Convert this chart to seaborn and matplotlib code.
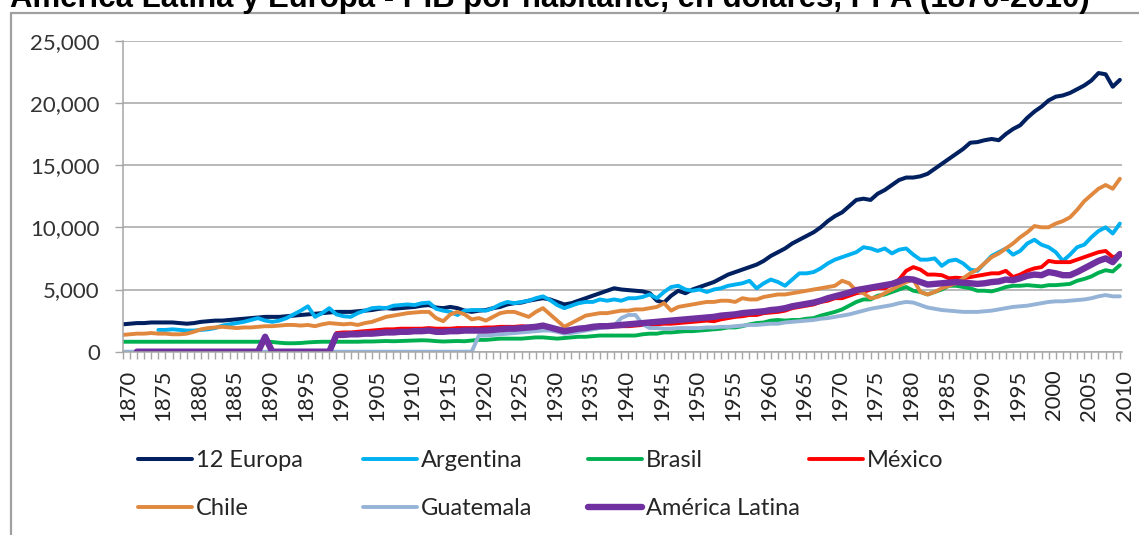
import numpy as np
import pandas as pd
import matplotlib
matplotlib.use("Agg")
import matplotlib.pyplot as plt
import matplotlib.ticker as mticker
import matplotlib.transforms as mtransforms
from matplotlib.lines import Line2D
import seaborn as sns

# PIB por habitante (dolares PPA), 1870-2010
years = list(range(1870, 2011))
nan = np.nan

europa = [2200, 2250, 2300, 2300, 2350, 2350, 2350, 2350, 2300, 2250,
          2300, 2400, 2450, 2500, 2500, 2550, 2600, 2650, 2700, 2750,
          2800, 2800, 2800, 2850, 2900, 2950, 3000, 3050, 3100, 3150,
          3200, 3200, 3200, 3250, 3300, 3350, 3450, 3500, 3450, 3500,
          3550, 3600, 3700, 3750, 3550, 3500, 3600, 3500, 3300, 3200,
          3300, 3350, 3500, 3600, 3800, 3900, 3950, 4100, 4200, 4300,
          4200, 4000, 3800, 3900, 4100, 4300, 4500, 4700, 4900, 5100,
          5000, 4950, 4900, 4850, 4700, 4100, 3950, 4500, 4900, 4700,
          5000, 5200, 5400, 5600, 5900, 6200, 6400, 6600, 6800, 7000,
          7300, 7700, 8000, 8300, 8700, 9000, 9300, 9600, 10000, 10500,
          10900, 11200, 11700, 12200, 12300, 12200, 12700, 13000, 13400, 13800,
          14000, 14000, 14100, 14300, 14700, 15100, 15500, 15900, 16300, 16800,
          16850, 17000, 17100, 17000, 17500, 17900, 18200, 18800, 19300, 19700,
          20200, 20500, 20600, 20800, 21100, 21400, 21800, 22400, 22300, 21300,
          21850]

argentina = [nan, nan, nan, nan, nan, 1750, 1750, 1800, 1750, 1700,
             1700, 1750, 1800, 1900, 2100, 2200, 2300, 2400, 2550, 2700,
             2500, 2400, 2500, 2700, 3000, 3300, 3650, 2800, 3100, 3500,
             3000, 2850, 2800, 3100, 3300, 3500, 3550, 3500, 3700, 3750,
             3800, 3750, 3900, 3950, 3450, 3300, 3200, 2950, 3300, 3350,
             3350, 3300, 3500, 3800, 4000, 3900, 4000, 4100, 4300, 4450,
             4150, 3750, 3500, 3700, 3900, 4000, 4000, 4200, 4100, 4200,
             4100, 4300, 4300, 4400, 4600, 4300, 4800, 5200, 5300, 5000,
             4900, 5000, 4800, 5000, 5100, 5300, 5400, 5500, 5700, 5100,
             5500, 5800, 5600, 5300, 5800, 6300, 6300, 6400, 6700, 7100,
             7400, 7600, 7800, 8000, 8400, 8300, 8100, 8300, 7900, 8200,
             8300, 7800, 7400, 7400, 7500, 6900, 7300, 7400, 7100, 6600,
             6500, 7100, 7700, 8000, 8300, 7800, 8100, 8700, 9000, 8600,
             8400, 8000, 7300, 7800, 8400, 8600, 9200, 9700, 10000, 9500,
             10300]

brasil = [800, 800, 800, 800, 800, 800, 800, 800, 800, 800,
          800, 800, 800, 800, 800, 800, 800, 800, 800, 800,
          800, 780, 720, 680, 680, 700, 750, 780, 800, 800,
          800, 800, 800, 800, 820, 820, 840, 860, 840, 860,
          880, 900, 920, 900, 850, 820, 840, 860, 840, 900,
          950, 950, 1000, 1050, 1050, 1050, 1050, 1100, 1150, 1150,
          1100, 1050, 1100, 1150, 1200, 1200, 1250, 1300, 1300, 1300,
          1300, 1300, 1300, 1400, 1450, 1450, 1550, 1550, 1600, 1650,
          1650, 1700, 1750, 1800, 1850, 1950, 1950, 2050, 2200, 2300,
          2350, 2500, 2550, 2500, 2550, 2550, 2650, 2700, 2900, 3050,
          3200, 3400, 3700, 4000, 4200, 4200, 4500, 4600, 4800, 5000,
          5200, 4900, 4800, 4600, 4800, 5000, 5300, 5300, 5200, 5100,
          4900, 4900, 4850, 5000, 5200, 5300, 5300, 5350, 5300, 5250,
          5350, 5350, 5400, 5450, 5700, 5850, 6050, 6350, 6550, 6450,
          6950]

mexico = [nan] * 30 + [
          1500, 1550, 1550, 1600, 1650, 1700, 1750, 1800, 1800, 1850,
          1850, 1850, 1850, 1900, 1850, 1850, 1850, 1900, 1900, 1900,
          1900, 1950, 1950, 2000, 2000, 2000, 2050, 2000, 2000, 2050,
          1900, 1800, 1650, 1750, 1800, 1900, 1950, 2000, 2000, 2050,
          2050, 2050, 2100, 2150, 2150, 2200, 2250, 2250, 2300, 2350,
          2400, 2450, 2500, 2450, 2600, 2700, 2800, 2850, 2950, 2950,
          3100, 3150, 3200, 3300, 3500, 3600, 3700, 3800, 4000, 4100,
          4300, 4300, 4500, 4700, 4800, 5000, 5100, 5100, 5400, 5800,
          6500, 6800, 6600, 6200, 6200, 6150, 5900, 5950, 5900, 6000,
          6100, 6200, 6300, 6300, 6500, 6000, 6200, 6500, 6700, 6800,
          7300, 7200, 7200, 7200, 7400, 7600, 7800, 8000, 8100, 7600,
          7750]

chile = [1350, 1400, 1450, 1450, 1500, 1450, 1450, 1400, 1400, 1450,
         1600, 1800, 1900, 1950, 2000, 1950, 1900, 1950, 1950, 2000,
         2050, 2050, 2100, 2150, 2150, 2100, 2150, 2050, 2200, 2300,
         2250, 2200, 2250, 2150, 2300, 2400, 2600, 2800, 2900, 3000,
         3100, 3150, 3200, 3200, 2700, 2450, 3000, 3200, 3000, 2600,
         2700, 2500, 2800, 3100, 3200, 3200, 3000, 2800, 3200, 3500,
         3000, 2500, 2000, 2300, 2600, 2900, 3000, 3100, 3100, 3200,
         3300, 3300, 3400, 3400, 3500, 3600, 3900, 3300, 3600, 3700,
         3800, 3900, 4000, 4000, 4100, 4100, 4000, 4300, 4200, 4200,
         4400, 4500, 4600, 4600, 4700, 4800, 4900, 5000, 5100, 5200,
         5300, 5700, 5500, 4900, 4700, 4300, 4400, 4700, 5000, 5300,
         5600, 5800, 4800, 4600, 4800, 5100, 5300, 5500, 5900, 6300,
         6600, 7100, 7600, 7900, 8300, 8700, 9200, 9600, 10100, 10000,
         10000, 10300, 10500, 10800, 11400, 12100, 12600, 13100, 13400, 13100,
         13900]

guatemala = [0] * 50 + [
             1300, 1300, 1350, 1400, 1450, 1500, 1550, 1600, 1650, 1700,
             1700, 1600, 1450, 1500, 1600, 1700, 1800, 1900, 2000, 2100,
             2700, 2950, 2950, 2200, 1900, 1900, 1850, 1850, 1900, 1900,
             1900, 1900, 1950, 1950, 2000, 2000, 2050, 2100, 2150, 2150,
             2200, 2250, 2250, 2350, 2400, 2450, 2500, 2550, 2650, 2700,
             2800, 2900, 3000, 3150, 3300, 3450, 3550, 3650, 3750, 3900,
             4000, 3950, 3750, 3550, 3450, 3350, 3300, 3250, 3200, 3200,
             3200, 3250, 3300, 3400, 3500, 3600, 3650, 3700, 3800, 3900,
             4000, 4050, 4050, 4100, 4150, 4200, 4300, 4450, 4550, 4450,
             4450]

america_latina = [nan, nan, 0, 0, 0, 0, 0, 0, 0, 0,
                  0, 0, 0, 0, 0, 0, 0, 0, 0, 0,
                  1200, 0, 0, 0, 0, 0, 0, 0, 0, 0,
                  1350, 1350, 1400, 1400, 1450, 1450, 1500, 1550, 1550, 1600,
                  1600, 1650, 1650, 1700, 1600, 1600, 1650, 1650, 1700, 1700,
                  1700, 1700, 1750, 1800, 1850, 1850, 1900, 1950, 2000, 2100,
                  1950, 1800, 1650, 1750, 1850, 1900, 2000, 2050, 2050, 2100,
                  2150, 2200, 2250, 2300, 2350, 2400, 2450, 2500, 2550, 2600,
                  2650, 2700, 2750, 2800, 2900, 2950, 3000, 3100, 3150, 3200,
                  3250, 3350, 3400, 3500, 3650, 3750, 3850, 3950, 4100, 4300,
                  4450, 4600, 4750, 4950, 5050, 5150, 5250, 5350, 5450, 5650,
                  5850, 5800, 5600, 5400, 5450, 5500, 5550, 5600, 5550, 5500,
                  5450, 5500, 5600, 5650, 5800, 5750, 5900, 6100, 6200, 6150,
                  6400, 6300, 6150, 6150, 6400, 6700, 7000, 7300, 7500, 7200,
                  7850]

series_names = ["12 Europa", "Argentina", "Brasil", "México",
                "Chile", "Guatemala", "América Latina"]
series_values = [europa, argentina, brasil, mexico, chile, guatemala, america_latina]
colors = ["#002060", "#00B0F0", "#00B050", "#FF0000",
          "#E0883E", "#95B3D7", "#7030A0"]
widths = [2.9, 2.8, 2.8, 2.8, 2.8, 2.8, 4.6]

title = "América Latina y Europa - PIB por habitante, en dólares, PPA (1870-2010)"

sns.set_theme(style="white")
plt.rcParams["font.family"] = ["Lato", "DejaVu Sans"]

W, H = 1139, 535
fig = plt.figure(figsize=(W / 100, H / 100), dpi=100)
ax = fig.add_axes([122.7 / W, (H - 351.7) / H, (1122 - 122.7) / W, (351.7 - 40.7) / H])

handles = []
for name, vals, col, lw in zip(series_names, series_values, colors, widths):
    df = pd.DataFrame({"year": years, "valor": vals})
    sns.lineplot(data=df, x="year", y="valor", ax=ax, color=col, linewidth=lw,
                 label=name, legend=False)
    handles.append(ax.lines[-1])

ax.set_xlim(1870, 2010.3)
ax.set_ylim(0, 25000)
ax.set_xlabel("")
ax.set_ylabel("")

ax.yaxis.set_major_locator(mticker.MultipleLocator(5000))
ax.yaxis.set_major_formatter(mticker.StrMethodFormatter("{x:,.0f}"))
ax.xaxis.set_major_locator(mticker.MultipleLocator(5))
ax.xaxis.set_minor_locator(mticker.MultipleLocator(1))
ax.grid(axis="y", color="#A6A6A6", linewidth=1.1)
ax.set_axisbelow(True)

for side in ["top", "right"]:
    ax.spines[side].set_visible(False)
for side in ["left", "bottom"]:
    ax.spines[side].set_color("#A6A6A6")
    ax.spines[side].set_linewidth(1.1)

ax.tick_params(axis="y", which="major", left=True, length=5.5, width=1, color="#A6A6A6",
               pad=11, labelsize=16, labelcolor="#333333")
ax.tick_params(axis="x", which="both", bottom=True, length=5, width=1, color="#A6A6A6",
               direction="out")
ax.tick_params(axis="x", which="major", pad=8, labelsize=15.8, labelcolor="#222222",
               labelrotation=90)

# las etiquetas del eje x van un poco a la derecha, como en el original
shift = mtransforms.ScaledTranslation(5 / 100, 0, fig.dpi_scale_trans)
for lbl in ax.get_xticklabels():
    lbl.set_transform(lbl.get_transform() + shift)

# leyenda: una columna por cada par de series
col_x = [138, 363, 588, 809]
col_items = [[0, 4], [1, 5], [2, 6], [3]]
for cx, items in zip(col_x, col_items):
    leg = fig.legend(handles=[handles[i] for i in items],
                     labels=[series_names[i] for i in items],
                     loc="upper left", bbox_to_anchor=(cx / W, 1 - 450 / H),
                     frameon=False, fontsize=17, handlelength=2.29, handletextpad=0.17,
                     labelspacing=1.15, borderpad=0, borderaxespad=0)
    for txt in leg.get_texts():
        txt.set_color("#262626")

# marco del grafico
fig.add_artist(Line2D([11 / W, 11 / W], [0, 1 - 12.5 / H], color="#A0A0A0",
                      linewidth=1.6, transform=fig.transFigure))
fig.add_artist(Line2D([11 / W, 1], [1 - 12.5 / H, 1 - 12.5 / H], color="#A0A0A0",
                      linewidth=1.6, transform=fig.transFigure))

t = fig.text(10 / W, 1 - 6.5 / H, title, fontsize=20, fontweight="bold",
             family=["Liberation Sans", "DejaVu Sans"], va="baseline", ha="left",
             color="black")
fig.canvas.draw()
tw = t.get_window_extent().width
t.set_fontsize(20 * 1080 / tw)

fig.savefig("out.png", dpi=100)
